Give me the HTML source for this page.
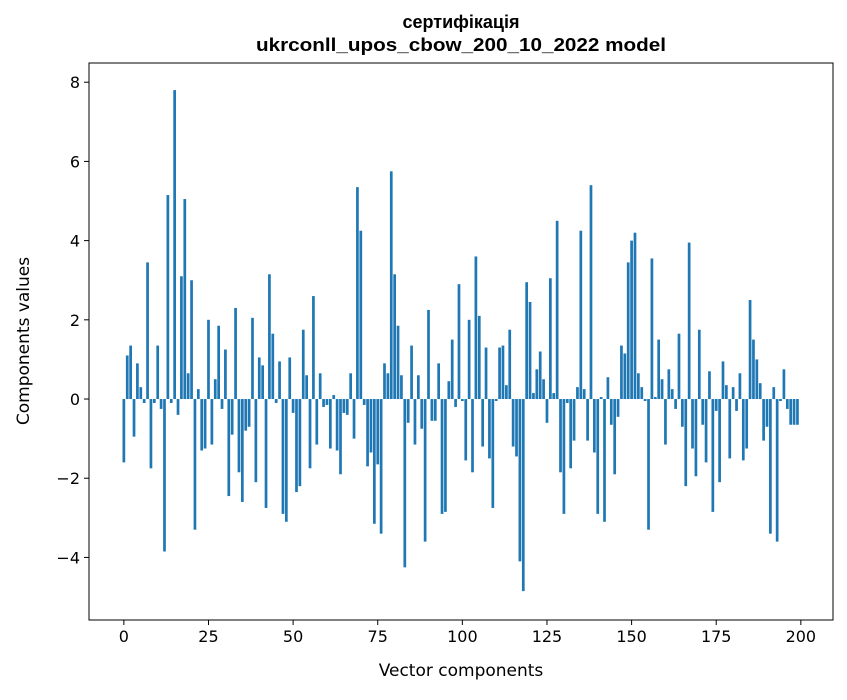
<!DOCTYPE html>
<html><head><meta charset="utf-8"><style>
body{margin:0;background:#fff;font-family:"DejaVu Sans","Liberation Sans",sans-serif}
</style></head><body>
<svg id="chart" width="847" height="696" xmlns="http://www.w3.org/2000/svg" font-family="DejaVu Sans, Liberation Sans, sans-serif">
<rect width="847" height="696" fill="#fff"/>
<text x="461" y="28" text-anchor="middle" font-size="18" font-weight="bold" font-family="Liberation Sans, sans-serif">сертифікація</text>
<text x="461" y="51" text-anchor="middle" font-size="18" font-weight="bold" font-family="Liberation Sans, sans-serif" textLength="410" lengthAdjust="spacingAndGlyphs">ukrconll_upos_cbow_200_10_2022 model</text>
<g id="bars"></g>
<g id="xticks"></g>
<g id="yticks"></g>
<rect x="89" y="63" width="744" height="557" fill="none" stroke="#000" stroke-width="1"/>
<text x="461" y="676" text-anchor="middle" font-size="17">Vector components</text>
<text transform="translate(29,341) rotate(-90)" text-anchor="middle" font-size="17">Components values</text>
</svg>
<script>
const values = [-1.6,1.1,1.35,-0.95,0.9,0.3,-0.1,3.45,-1.75,-0.1,1.35,-0.25,-3.85,5.15,-0.1,7.8,-0.4,3.1,5.05,0.65,
3.0,-3.3,0.25,-1.3,-1.25,2.0,-1.15,0.5,1.85,-0.25,1.25,-2.45,-0.9,2.3,-1.85,-2.6,-0.8,-0.7,2.05,-2.1,
1.05,0.85,-2.75,3.15,1.65,-0.1,0.95,-2.9,-3.1,1.05,-0.35,-2.35,-2.2,1.75,0.6,-1.75,2.6,-1.15,0.65,-0.2,
-0.15,-1.25,0.1,-1.3,-1.9,-0.35,-0.4,0.65,-1.0,5.35,4.25,-0.15,-1.7,-1.35,-3.15,-1.65,-3.4,0.9,0.65,5.75,
3.15,1.85,0.6,-4.25,-0.6,1.35,-1.15,0.6,-0.75,-3.6,2.25,-0.55,-0.55,0.9,-2.9,-2.85,0.45,1.5,-0.2,2.9,
-0.05,-1.55,2.0,-1.85,3.6,2.1,-1.2,1.3,-1.5,-2.75,-0.05,1.3,1.35,0.35,1.75,-1.2,-1.45,-4.1,-4.85,2.95,
2.45,0.15,0.75,1.2,0.5,-0.6,3.05,0.15,4.5,-1.85,-2.9,-0.1,-1.75,-1.05,0.3,4.25,0.25,-1.05,5.4,-1.35,
-2.9,0.05,-3.1,0.55,-0.65,-1.9,-0.45,1.35,1.15,3.45,4.0,4.2,0.65,0.3,-0.05,-3.3,3.55,0.05,1.5,0.5,
-1.15,0.75,0.25,-0.25,1.65,-0.7,-2.2,3.95,-1.25,-1.95,1.75,-0.65,-1.6,0.7,-2.85,-0.3,-2.1,0.95,0.35,-1.5,
0.3,-0.3,0.65,-1.55,-1.25,2.5,1.5,1.0,0.4,-1.05,-0.7,-3.4,0.3,-3.6,-0.05,0.75,-0.25,-0.65,-0.65,-0.65];
const xTickLabels = [0,25,50,75,100,125,150,175,200];
const yTickLabels = [-4,-2,0,2,4,6,8];
const NS="http://www.w3.org/2000/svg";
const X0=89,X1=833,Y0=63,Y1=620,xmin=-10.3,xmax=209.5,ymin=-5.58,ymax=8.485;
const sx=v=>X0+(v-xmin)/(xmax-xmin)*(X1-X0);
const sy=v=>Y1-(v-ymin)/(ymax-ymin)*(Y1-Y0);
const bars=document.getElementById('bars');
values.forEach((v,i)=>{
  const r=document.createElementNS(NS,'rect');
  
  
  const x=sx(i-0.4), w=sx(i+0.4)-x;
  r.setAttribute('x',x);r.setAttribute('width',w);
  r.setAttribute('y',Math.min(sy(v),sy(0)));
  r.setAttribute('height',Math.abs(sy(v)-sy(0)));
  r.setAttribute('fill','#1f77b4');
  bars.appendChild(r);
});
const xg=document.getElementById('xticks');
xTickLabels.forEach(t=>{
  const l=document.createElementNS(NS,'line');
  
  
  l.setAttribute('x1',sx(t));l.setAttribute('x2',sx(t));l.setAttribute('y1',Y1);l.setAttribute('y2',Y1+5);l.setAttribute('stroke','#000');
  xg.appendChild(l);
  const tx=document.createElementNS(NS,'text');
  
  
  tx.setAttribute('x',sx(t));tx.setAttribute('y',Y1+22);tx.setAttribute('text-anchor','middle');tx.setAttribute('font-size','16');
  tx.textContent=t;xg.appendChild(tx);
});
const yg=document.getElementById('yticks');
yTickLabels.forEach(t=>{
  const l=document.createElementNS(NS,'line');
  
  
  l.setAttribute('x1',X0-5);l.setAttribute('x2',X0);l.setAttribute('y1',sy(t));l.setAttribute('y2',sy(t));l.setAttribute('stroke','#000');
  yg.appendChild(l);
  const tx=document.createElementNS(NS,'text');
  
  
  tx.setAttribute('x',X0-9);tx.setAttribute('y',sy(t)+6);tx.setAttribute('text-anchor','end');tx.setAttribute('font-size','16');
  tx.textContent=(t<0?'\u2212'+(-t):t);yg.appendChild(tx);
});
</script>
</body></html>
